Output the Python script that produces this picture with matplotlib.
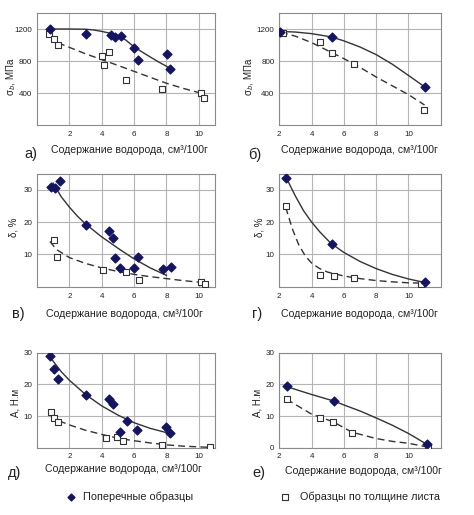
import matplotlib
matplotlib.use("Agg")
import matplotlib.pyplot as plt

plt.rcParams['font.family'] = ['Liberation Sans', 'DejaVu Sans']

# ---------------- data ----------------
# a) sigma_b, transverse (diamonds)
a_d_x = [0.83, 3.05, 4.58, 4.83, 5.18, 6.02, 6.26, 8.01, 8.22]
a_d_y = [1200, 1140, 1130, 1105, 1110, 968, 816, 890, 700]
a_s_x = [0.77, 1.03, 1.28, 4.01, 4.17, 4.42, 5.51, 7.70, 10.14, 10.35]
a_s_y = [1138, 1076, 1002, 866, 750, 907, 568, 453, 396, 342]
a_fit_d_x = [0.8, 2, 3, 3.5, 4, 4.5, 5, 5.5, 6, 6.5, 7, 7.5, 8.2]
a_fit_d_y = [1200, 1200, 1197, 1188, 1170, 1148, 1118, 1060, 975, 912, 850, 790, 712]
a_fit_s_x = [1.3, 3, 5, 7, 8, 9, 10, 10.3]
a_fit_s_y = [1027, 890, 745, 596, 522, 460, 405, 395]

# б) sigma_b, two series
b_d_x = [2.04, 5.24, 11.01]
b_d_y = [1162, 1104, 475]
b_s_x = [2.25, 4.52, 5.24, 6.64, 10.99]
b_s_y = [1150, 1033, 900, 767, 183]
b_fit_d_x = [2, 3, 4, 5.2, 6, 7, 8, 9, 10, 11]
b_fit_d_y = [1170, 1162, 1142, 1102, 1052, 975, 880, 760, 620, 478]
b_fit_s_x = [2.1, 3, 4, 5, 6, 7, 8, 9, 10, 11]
b_fit_s_y = [1160, 1110, 1030, 930, 830, 720, 600, 490, 380, 250]

# в) delta, %
c_d_x = [0.89, 1.10, 1.40, 3.05, 4.46, 4.69, 4.79, 5.14, 6.02, 6.26, 7.76, 8.26]
c_d_y = [30.8, 30.6, 32.7, 19.1, 17.1, 15.0, 8.8, 5.9, 5.9, 9.1, 5.4, 6.1]
c_s_x = [1.03, 1.26, 4.05, 5.51, 6.33, 10.12, 10.37]
c_s_y = [14.4, 9.3, 5.1, 4.4, 2.2, 1.5, 0.8]
c_fit_d_x = [1.0, 1.5, 2, 2.5, 3, 4, 5, 6, 7, 8]
c_fit_d_y = [32.0, 27.8, 24.6, 21.8, 19.4, 15.4, 11.9, 8.6, 5.8, 3.5]
c_fit_s_x = [0.8, 1.2, 2, 3, 4, 5, 6, 7, 8, 9, 10.4]
c_fit_s_y = [14.0, 11.5, 9.0, 7.2, 5.8, 4.7, 3.8, 3.1, 2.5, 1.9, 1.2]

# г) delta, %
d_d_x = [2.41, 5.24, 11.01]
d_d_y = [33.7, 13.2, 1.3]
d_s_x = [2.41, 4.52, 5.40, 6.62, 10.76]
d_s_y = [24.9, 3.6, 3.3, 2.8, 0.8]
d_fit_d_x = [2.4, 3, 3.5, 4, 4.5, 5.2, 6, 7, 8, 9, 10, 11]
d_fit_d_y = [34.0, 28.0, 23.5, 20.0, 17.0, 13.4, 10.6, 7.8, 5.6, 3.8, 2.4, 1.3]
d_fit_s_x = [2.4, 2.8, 3.2, 3.6, 4, 4.5, 5, 6, 7, 8, 9, 10, 10.8]
d_fit_s_y = [24.5, 18.0, 13.0, 9.6, 7.3, 5.6, 4.5, 3.3, 2.5, 1.9, 1.5, 1.2, 1.1]

# д) A, N·m
e_d_x = [0.79, 1.04, 1.28, 3.05, 4.46, 4.67, 5.55, 5.14, 6.20, 7.97, 8.22]
e_d_y = [29.1, 24.7, 21.6, 16.5, 15.3, 13.7, 8.5, 4.9, 5.5, 6.4, 4.5]
e_s_x = [0.87, 1.04, 1.28, 4.26, 4.93, 5.34, 7.74, 10.68]
e_s_y = [11.3, 9.3, 8.0, 3.1, 3.5, 2.0, 0.7, 0.2]
e_fit_d_x = [0.8, 1.0, 1.5, 2, 3, 4, 5, 6, 7, 8.2]
e_fit_d_y = [29.0, 27.3, 24.0, 21.3, 16.8, 13.2, 10.3, 7.9, 6.1, 4.5]
e_fit_s_x = [0.8, 1.3, 2, 3, 4, 5, 6, 7, 8, 9, 10.7]
e_fit_s_y = [10.5, 8.6, 7.2, 5.5, 4.2, 3.0, 2.2, 1.5, 0.9, 0.5, 0.1]

# е) A, N·m
f_d_x = [2.45, 5.38, 11.15]
f_d_y = [19.4, 14.9, 1.1]
f_s_x = [2.45, 4.52, 5.34, 6.52, 11.2]
f_s_y = [15.4, 9.3, 8.2, 4.7, 0.3]
f_fit_d_x = [2.45, 4, 5.4, 6, 7, 8, 9, 10, 11.1]
f_fit_d_y = [19.3, 16.8, 14.7, 13.5, 11.6, 9.4, 7.1, 4.5, 1.2]
f_fit_s_x = [2.45, 4, 5.33, 6.5, 8, 9, 10, 11.1]
f_fit_s_y = [15.3, 10.6, 8.2, 4.9, 2.9, 2.0, 1.4, 0.3]

xlabel = "Содержание водорода, см³/100г"
ylabel_sigma = "σ$_b$, МПа"
ylabel_delta = "δ, %"
ylabel_A = "А, Н.м"
panel_letters = ["а)", "б)", "в)", "г)", "д)", "е)"]
legend_d = "Поперечные образцы"
legend_s = "Образцы по толщине листа"

# ---------------- style ----------------
W, H = 474, 515
fig = plt.figure(figsize=(W / 100, H / 100), dpi=100)
DCOL = "#141464"
LCOL = "#333333"
GCOL = "#b4b4b4"
TXT = "#222222"


def px_axes(l, t, r, b):
    return fig.add_axes([l / W, 1 - b / H, (r - l) / W, (b - t) / H])


def style(ax, xlim, ylim, xt, yt, xpad=4.5):
    ax.set_xlim(*xlim)
    ax.set_ylim(*ylim)
    ax.set_xticks(xt)
    ax.set_yticks(yt)
    ax.grid(True, color=GCOL, lw=0.8)
    ax.set_axisbelow(True)
    for s in ax.spines.values():
        s.set_color("#8a8a8a")
        s.set_linewidth(0.8)
    ax.tick_params(length=0, labelsize=5.8, colors=TXT)
    ax.tick_params(axis="x", pad=xpad)
    ax.tick_params(axis="y", pad=3.5)


def draw(ax, dx, dy, sx, sy, fdx, fdy, fsx, fsy):
    ax.plot(fdx, fdy, color=LCOL, lw=1.0, zorder=3)
    ax.plot(fsx, fsy, color=LCOL, lw=1.0, ls=(0, (5, 3)), zorder=3)
    ax.scatter(sx, sy, marker="s", s=24, facecolor="white", edgecolor="#333333",
               linewidth=0.8, zorder=4)
    ax.scatter(dx, dy, marker="D", s=20, color=DCOL, zorder=5)


L1, R1 = 37, 215
L2, R2 = 279.3, 440.7
rows = [(13, 125), (173.5, 286.7), (352.7, 447.7)]

axs = []
# a
ax = px_axes(L1, rows[0][0], R1, rows[0][1])
style(ax, (0, 11), (0, 1400), [2, 4, 6, 8, 10], [400, 800, 1200])
draw(ax, a_d_x, a_d_y, a_s_x, a_s_y, a_fit_d_x, a_fit_d_y, a_fit_s_x, a_fit_s_y)
axs.append(ax)
# б
ax = px_axes(L2, rows[0][0], R2, rows[0][1])
style(ax, (2, 12), (0, 1400), [2, 4, 6, 8, 10], [400, 800, 1200])
draw(ax, b_d_x, b_d_y, b_s_x, b_s_y, b_fit_d_x, b_fit_d_y, b_fit_s_x, b_fit_s_y)
axs.append(ax)
# в
ax = px_axes(L1, rows[1][0], R1, rows[1][1])
style(ax, (0, 11), (0, 35), [2, 4, 6, 8, 10], [10, 20, 30])
draw(ax, c_d_x, c_d_y, c_s_x, c_s_y, c_fit_d_x, c_fit_d_y, c_fit_s_x, c_fit_s_y)
axs.append(ax)
# г
ax = px_axes(L2, rows[1][0], R2, rows[1][1])
style(ax, (2, 12), (0, 35), [2, 4, 6, 8, 10], [10, 20, 30])
draw(ax, d_d_x, d_d_y, d_s_x, d_s_y, d_fit_d_x, d_fit_d_y, d_fit_s_x, d_fit_s_y)
axs.append(ax)
# д
ax = px_axes(L1, rows[2][0], R1, rows[2][1])
style(ax, (0, 11), (0, 30), [2, 4, 6, 8, 10], [10, 20, 30], xpad=3.5)
draw(ax, e_d_x, e_d_y, e_s_x, e_s_y, e_fit_d_x, e_fit_d_y, e_fit_s_x, e_fit_s_y)
axs.append(ax)
# е
ax = px_axes(L2, rows[2][0], R2, rows[2][1])
style(ax, (2, 12), (0, 30), [2, 4, 6, 8, 10], [0, 10, 20, 30], xpad=3.5)
draw(ax, f_d_x, f_d_y, f_s_x, f_s_y, f_fit_d_x, f_fit_d_y, f_fit_s_x, f_fit_s_y)
axs.append(ax)

ylabels = [ylabel_sigma, ylabel_sigma, ylabel_delta, ylabel_delta, ylabel_A, ylabel_A]
# ylabel centre positions in pixels (x, y)
yl_pos = [(11, 77), (249, 77), (13, 227), (259, 227), (15, 403), (258, 403)]
for ax, lab, (x, y) in zip(axs, ylabels, yl_pos):
    fig.text(x / W, 1 - y / H, lab, fontsize=7, color=TXT, rotation=90,
             ha="center", va="center")

# x labels (baseline positions) and panel letters
xl_pos = [(129, 153), (359, 153), (124, 317), (359, 317), (123, 472), (363, 474)]
pl_pos = [(31, 154), (255, 155), (18, 314), (257, 314), (15, 473), (259, 473)]
for (x, y) in xl_pos:
    fig.text(x / W, 1 - y / H, xlabel, fontsize=7.6, ha="center", va="baseline", color=TXT)
for lab, (x, y) in zip(panel_letters, pl_pos):
    fig.text(x / W, 1 - y / H, lab, fontsize=10.5, ha="center", va="center", color=TXT)

# legend
lax = fig.add_axes([0, 0, 1, 1], facecolor="none")
lax.set_xlim(0, W)
lax.set_ylim(H, 0)
lax.axis("off")
lax.scatter([71], [497], marker="D", s=12, color=DCOL)
lax.scatter([285], [497], marker="s", s=14, facecolor="white", edgecolor="#333333", linewidth=0.8)
lax.text(83, 497, legend_d, fontsize=7.8, va="center", ha="left", color=TXT)
lax.text(300, 497, legend_s, fontsize=7.8, va="center", ha="left", color=TXT)

fig.savefig("out.png", dpi=100, facecolor="white")
